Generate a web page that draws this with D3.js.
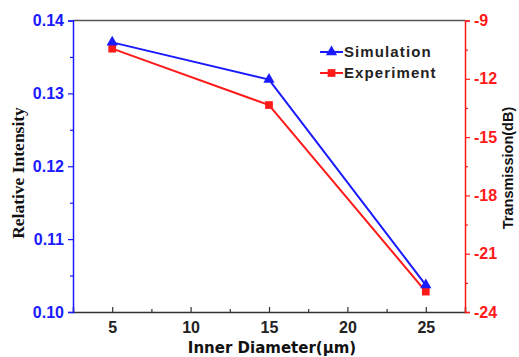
<!DOCTYPE html>
<html>
<head>
<meta charset="utf-8">
<script src="https://cdn.jsdelivr.net/npm/d3@7/dist/d3.min.js"></script>
<style>
  body { margin: 0; background: #fff; }
  svg { display: block; }
  text { font-family: "Liberation Sans", Arial, sans-serif; font-weight: bold; }
</style>
</head>
<body>
<svg id="chart" width="519" height="357"></svg>
<script>
// Inner diameter (µm) of each sample
const diameters = [5, 15, 25];
// Simulated relative intensity (left axis)
const simulation = [0.1370, 0.1319, 0.1037];
// Measured transmission in dB (right axis)
const experiment = [-10.45, -13.35, -22.95];

const xTicks = [5, 10, 15, 20, 25];
const yLeftTicks = [0.10, 0.11, 0.12, 0.13, 0.14];
const yRightTicks = [-24, -21, -18, -15, -12, -9];

const blue = "#1a1aff";
const red = "#ff1a1a";
const sans = '"Liberation Sans", Arial, sans-serif';

const svg = d3.select("#chart");
const m = { left: 73, right: 465, top: 20.5, bottom: 312 };

const x = d3.scaleLinear().domain([2.5, 27.5]).range([m.left, m.right]);
const yL = d3.scaleLinear().domain([0.10, 0.14]).range([m.bottom, m.top]);
const yR = d3.scaleLinear().domain([-24, -9]).range([m.bottom, m.top]);

// top frame line
svg.append("line")
  .attr("x1", m.left).attr("x2", m.right)
  .attr("y1", m.top).attr("y2", m.top)
  .attr("stroke", "#555").attr("stroke-width", 1.5);

function styleTicks(g, color) {
  g.selectAll("text").attr("fill", color).style("font-size", "16px")
    .style("font-family", sans).style("font-weight", "bold");
}

// bottom axis: major ticks plus minor ticks pointing inward
const gx = svg.append("g").attr("transform", `translate(0,${m.bottom})`);
gx.call(d3.axisBottom(x).tickValues(xTicks).tickSize(-5).tickPadding(7).tickFormat(d3.format("d")));
gx.append("g").call(d3.axisBottom(x).tickValues([7.5, 12.5, 17.5, 22.5]).tickSize(-3).tickFormat(""))
  .select(".domain").remove();
gx.selectAll("path.domain").attr("stroke", "#333").attr("stroke-width", 1.5);
gx.selectAll("line").attr("stroke", "#333").attr("stroke-width", 1.2);
styleTicks(gx, "#222");
gx.selectAll("text").attr("dy", "0.85em");

// left axis (relative intensity)
const gl = svg.append("g").attr("transform", `translate(${m.left},0)`);
gl.call(d3.axisLeft(yL).tickValues(yLeftTicks).tickSize(5).tickPadding(4).tickFormat(d3.format(".2f")));
gl.append("g").call(d3.axisLeft(yL).tickValues([0.105, 0.115, 0.125, 0.135]).tickSize(3).tickFormat(""))
  .select(".domain").remove();
gl.selectAll("path.domain").attr("stroke", blue).attr("stroke-width", 1.5);
gl.selectAll("line").attr("stroke", blue).attr("stroke-width", 1.2);
styleTicks(gl, blue);

// right axis (transmission), plain hyphen for negatives
const hyphenFmt = d => (d < 0 ? "-" + Math.abs(d) : String(d));
const gr = svg.append("g").attr("transform", `translate(${m.right},0)`);
gr.call(d3.axisRight(yR).tickValues(yRightTicks).tickSize(5).tickPadding(4).tickFormat(hyphenFmt));
gr.append("g").call(d3.axisRight(yR).tickValues([-22.5, -19.5, -16.5, -13.5, -10.5]).tickSize(3).tickFormat(""))
  .select(".domain").remove();
gr.selectAll("path.domain").attr("stroke", red).attr("stroke-width", 1.5);
gr.selectAll("line").attr("stroke", red).attr("stroke-width", 1.2);
styleTicks(gr, red);

// axis titles
svg.append("text")
  .attr("transform", `translate(24,173) rotate(-90)`)
  .attr("text-anchor", "middle")
  .style("font-family", '"Liberation Serif", "Times New Roman", serif')
  .style("font-size", "17.5px").attr("fill", "#111")
  .text("Relative Intensity");

svg.append("text")
  .attr("transform", `translate(513,168) rotate(-90)`)
  .attr("text-anchor", "middle")
  .style("font-size", "14.5px").attr("fill", "#111")
  .text("Transmission(dB)");

svg.append("text")
  .attr("x", 272).attr("y", 353)
  .attr("text-anchor", "middle")
  .style("font-family", '"DejaVu Sans", sans-serif')
  .style("font-size", "15px").attr("fill", "#111")
  .text("Inner Diameter(μm)");

// series lines
const simData = diameters.map((d, i) => [d, simulation[i]]);
const expData = diameters.map((d, i) => [d, experiment[i]]);

svg.append("path").datum(simData)
  .attr("fill", "none").attr("stroke", blue).attr("stroke-width", 2)
  .attr("d", d3.line().x(d => x(d[0])).y(d => yL(d[1])));
svg.append("path").datum(expData)
  .attr("fill", "none").attr("stroke", red).attr("stroke-width", 2)
  .attr("d", d3.line().x(d => x(d[0])).y(d => yR(d[1])));

const tri = d3.symbol().type(d3.symbolTriangle).size(55);
const sq = d3.symbol().type(d3.symbolSquare).size(60);

svg.selectAll(".sq").data(expData).join("path")
  .attr("class", "sq")
  .attr("transform", d => `translate(${x(d[0])},${yR(d[1])})`)
  .attr("d", sq).attr("fill", red);
svg.selectAll(".tri").data(simData).join("path")
  .attr("class", "tri")
  .attr("transform", d => `translate(${x(d[0])},${yL(d[1])})`)
  .attr("d", tri).attr("fill", blue);

// legend
const legend = [
  { label: "Simulation", color: blue, sym: tri, y: 52 },
  { label: "Experiment", color: red, sym: sq, y: 73 }
];
const lg = svg.append("g");
legend.forEach(l => {
  lg.append("line").attr("x1", 320).attr("x2", 343).attr("y1", l.y).attr("y2", l.y)
    .attr("stroke", l.color).attr("stroke-width", 2);
  lg.append("path").attr("transform", `translate(331.5,${l.y})`).attr("d", l.sym).attr("fill", l.color);
  lg.append("text").attr("x", 344).attr("y", l.y).attr("dy", "0.35em")
    .style("font-size", "15px").style("letter-spacing", "1.1px").attr("fill", "#222")
    .text(l.label);
});
</script>
</body>
</html>
